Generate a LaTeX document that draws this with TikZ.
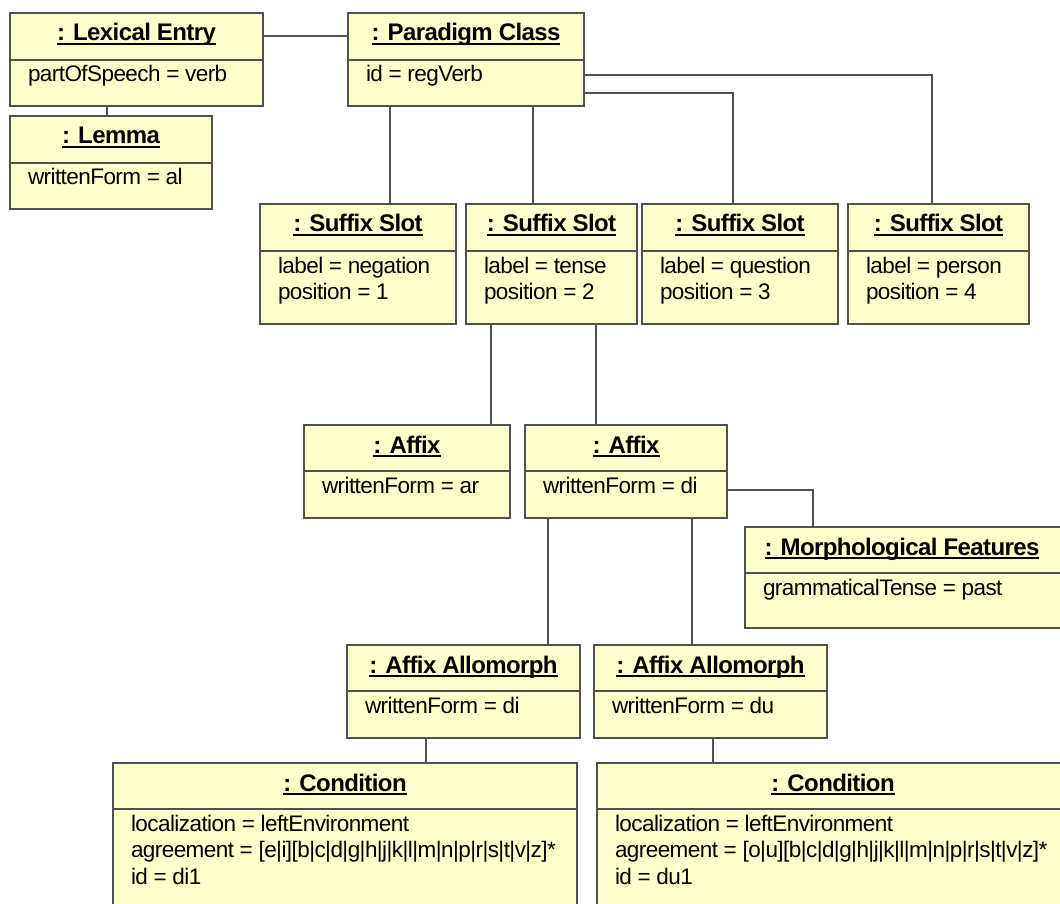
\documentclass[tikz,border=0pt]{standalone}
\usepackage{fontspec}
\setmainfont{Liberation Sans}
\newfontfamily\objfont[LetterSpace=-2.5]{Liberation Sans}
\definecolor{boxfill}{RGB}{255,255,204}
\definecolor{edge}{RGB}{80,80,80}
\tikzset{
  objbox/.style={draw=edge, line width=1.5pt, fill=boxfill, inner sep=0pt, outer sep=0pt, rectangle},
  objline/.style={draw=edge, line width=1.5pt},
  objtitle/.style={inner sep=0pt, outer sep=0pt, font=\objfont\fontsize{24}{28}\selectfont\bfseries},
  objattr/.style={inner sep=0pt, outer sep=0pt, font=\objfont\fontsize{22.5}{26.5}\selectfont},
  uline/.style={line width=2.2pt, black},
  link/.style={draw=edge, line width=1.5pt}
}
% UML object: name, left, top, right, bottom, compartment line, title, attribute lines
\newcommand\umlobject[8]{%
  \node[objbox, minimum width={(#4-#2)*1pt}, minimum height={(#5-#3)*1pt}, anchor=north west] (#1) at (#2,#3) {};
  \draw[objline] (#2,#6) -- (#4,#6);
  \node[objtitle, anchor=base] (#1-t) at ({(#2+#4)/2},{#3+28}) {#7};
  \draw[uline] ([yshift=-3pt]#1-t.base west) -- ([yshift=-3pt]#1-t.base east);
  \foreach \l [count=\i from 0] in {#8} {
    \node[objattr, anchor=base west] (#1-a\i) at ({#2+18},{#6+22+26.5*\i}) {\l};
  }%
}
\begin{document}
\begin{tikzpicture}[x=1pt, y=-1pt]
\useasboundingbox (0,0) rectangle (1060,904);
\clip (0,0) rectangle (1060,904);

\umlobject{le}{10}{13}{263}{106}{60}{: Lexical Entry}{{partOfSpeech = verb}}
\umlobject{lemma}{10}{116}{212}{209}{163}{: Lemma}{{writtenForm = al}}
\umlobject{pc}{348}{13}{584}{106}{60}{: Paradigm Class}{{id = regVerb}}

\umlobject{ss1}{260}{204}{456}{324}{251}{: Suffix Slot}{{label = negation},{position = 1}}
\umlobject{ss2}{466}{204}{637}{324}{251}{: Suffix Slot}{{label = tense},{position = 2}}
\umlobject{ss3}{642}{204}{838}{324}{251}{: Suffix Slot}{{label = question},{position = 3}}
\umlobject{ss4}{848}{204}{1029}{324}{251}{: Suffix Slot}{{label = person},{position = 4}}

\umlobject{a1}{304}{425}{510}{518}{471}{: Affix}{{writtenForm = ar}}
\umlobject{a2}{525}{425}{727}{518}{471}{: Affix}{{writtenForm = di}}
\umlobject{mf}{745}{527}{1080}{628}{573}{}{{grammaticalTense = past}}
\node[objtitle, anchor=base] (mf-title) at (902,555) {: Morphological Features};
\draw[uline] ([yshift=-3pt]mf-title.base west) -- ([yshift=-3pt]mf-title.base east);

\umlobject{aa1}{347}{645}{580}{738}{691}{: Affix Allomorph}{{writtenForm = di}}
\umlobject{aa2}{594}{645}{827}{738}{691}{: Affix Allomorph}{{writtenForm = du}}

\umlobject{c1}{113}{763}{577}{930}{809}{: Condition}{{localization = leftEnvironment},{agreement = [e|i][b|c|d|g|h|j|k|l|m|n|p|r|s|t|v|z]*},{id = di1}}
\umlobject{c2}{597}{763}{1150}{930}{809}{}{{localization = leftEnvironment},{agreement = [o|u][b|c|d|g|h|j|k|l|m|n|p|r|s|t|v|z]*},{id = du1}}
\node[objtitle, anchor=base] (c2-title) at (833,791) {: Condition};
\draw[uline] ([yshift=-3pt]c2-title.base west) -- ([yshift=-3pt]c2-title.base east);

% links
\draw[link] (le.east |- 0,36) -- (pc.west |- 0,36);
\draw[link] (le.south -| 107,0) -- (lemma.north -| 107,0);
\draw[link] (pc.south -| 390,0) -- (ss1.north -| 390,0);
\draw[link] (pc.south -| 533,0) -- (ss2.north -| 533,0);
\draw[link] (pc.east |- 0,93) -| (ss3.north -| 733,0);
\draw[link] (pc.east |- 0,75) -| (ss4.north -| 932,0);
\draw[link] (ss2.south -| 491,0) -- (a1.north -| 491,0);
\draw[link] (ss2.south -| 596,0) -- (a2.north -| 596,0);
\draw[link] (a2.east |- 0,490) -| (mf.north -| 813,0);
\draw[link] (a2.south -| 548,0) -- (aa1.north -| 548,0);
\draw[link] (a2.south -| 692,0) -- (aa2.north -| 692,0);
\draw[link] (aa1.south -| 426,0) -- (c1.north -| 426,0);
\draw[link] (aa2.south -| 713,0) -- (c2.north -| 713,0);
\end{tikzpicture}
\end{document}
